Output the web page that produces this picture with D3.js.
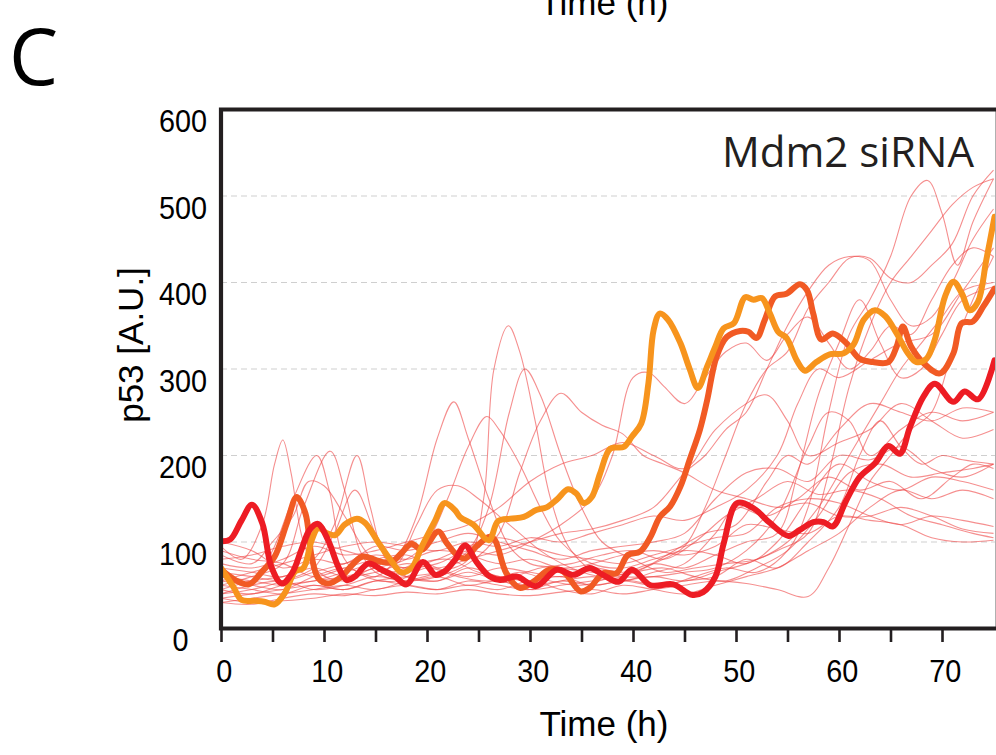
<!DOCTYPE html>
<html><head><meta charset="utf-8">
<script src="https://cdn.jsdelivr.net/npm/d3@7"></script>
<style>html,body{margin:0;padding:0;background:#fff;} svg{display:block;}</style>
</head><body><svg id="chart" width="996" height="755"></svg>
<script>
// ---------- data ----------
const xTicks = [0,5,10,15,20,25,30,35,40,45,50,55,60,65,70];
const xLabelTicks = [0,10,20,30,40,50,60,70];
const yTicks = [0,100,200,300,400,500,600];
const gridValues = [100,200,300,400,500];
const panelLabel = "C";
const conditionLabel = "Mdm2 siRNA";
const xTitle = "Time (h)";
const yTitle = "p53 [A.U.]";

// thick highlighted cells: [time (h), p53 (A.U.)]
const redCell = [[0,101],[0.9,103],[2,125],[3,143],[4,122],[4.9,71],[5.9,52],[6.9,64],[7.8,91],[8.6,114],[9.4,121],[10.4,102],[11.4,71],[12.2,56],[13,60],[14.3,75],[15.6,68],[16.9,60],[18,51],[19.6,77],[20.8,62],[21.7,66],[22.7,79],[23.7,96],[24.8,77],[26.1,60],[27.1,56],[28.7,60],[30.6,49],[32.6,68],[34.2,62],[35.8,70],[37.1,62],[38.6,54],[39.9,68],[41.7,50],[43.9,51],[45.7,39],[46.8,42],[48,60],[48.8,98],[50.1,145],[51.7,139],[53.3,122],[55.1,107],[56.2,114],[57.5,123],[58.5,123],[59.4,118],[60.7,148],[62,175],[63.5,191],[64.8,211],[65.9,202],[66.9,233],[68.2,268],[69.3,283],[71.1,262],[72.2,274],[73.5,265],[75.1,310]];
const orangeRedCell = [[0,68],[1.4,56],[2.7,51],[4,66],[5.2,83],[6.4,122],[7.35,152],[8.2,133],[8.8,83],[9.45,58],[10.4,52],[11.7,60],[12.7,73],[13.7,83],[15.6,77],[16.6,77],[17.5,87],[18.5,98],[19.5,91],[21.1,112],[21.9,99],[22.9,85],[23.7,81],[24.8,95],[26.1,106],[26.6,102],[27.7,64],[29,47],[30.3,54],[31.9,68],[33.2,66],[34.9,43],[35.8,47],[37.1,64],[38.4,64],[39.5,85],[40.7,89],[41.7,106],[42.6,129],[43.6,141],[44.6,164],[45.5,195],[46.5,230],[47.2,264],[48.1,314],[49.1,337],[50.4,344],[51.2,343],[52,336],[52.8,357],[53.8,384],[54.9,387],[56.2,398],[56.9,391],[57.5,364],[58.3,334],[59.4,341],[60.7,330],[62,312],[63.3,308],[64.8,308],[65.6,326],[66.2,349],[67,326],[68.2,307],[69.8,295],[71.1,318],[71.9,353],[73,355],[74,372],[75.1,393]];
const orangeCell = [[0,70],[1.2,48],[2,33],[3.3,32],[4.2,31],[5.2,28],[6.2,41],[7.2,66],[8,70],[8.8,102],[9.45,116],[10.3,110],[11.1,108],[12,120],[13.2,127],[14,122],[15.3,99],[16.6,77],[17.5,65],[18.5,70],[19.5,95],[20.8,125],[21.7,145],[22.7,137],[23.2,129],[24.5,120],[26,102],[26.9,124],[28.1,127],[29.4,129],[30.6,137],[31.6,140],[32.6,149],[33.7,161],[34.5,156],[35.2,145],[36,152],[36.8,179],[37.8,208],[39.1,210],[39.9,222],[40.8,237],[41.5,284],[42,345],[42.6,364],[43.4,357],[44.6,330],[45.5,300],[46.3,278],[47.2,303],[48,326],[48.8,347],[49.8,353],[50.9,383],[51.7,380],[52.5,382],[53.3,364],[54.1,343],[54.9,336],[55.9,310],[56.7,298],[57.8,308],[59.1,317],[60.4,318],[61.4,328],[62.4,357],[63.5,368],[64.5,361],[65.6,341],[66.7,318],[67.5,308],[68.5,312],[69.3,334],[70.3,384],[71.1,401],[71.9,388],[72.7,368],[73.5,378],[74.3,426],[75.1,476]];

// thin background cells
const thinCells = [
 [[0,95],[2,80],[4,120],[5.2,190],[6,218],[6.8,180],[8,100],[9.5,65],[12,55],[15,70],[18,60],[21,55],[24,65],[27,55],[30,50],[33,55],[36,60],[39,55],[42,65],[45,75],[48,110],[50,140],[53,130],[56,150],[59,175],[62,160],[65,170],[68,150],[71,175],[73,190],[75,185]],
 [[0,60],[3,55],[5,90],[7,150],[9.3,200],[10.5,160],[12,80],[14,60],[17,55],[20,70],[23,60],[26,55],[29,65],[32,55],[35,50],[38,60],[41,70],[44,90],[47,110],[50,120],[53,170],[55,200],[57,190],[60,230],[63,260],[66,250],[69,240],[72,255],[75,250]],
 [[0,50],[3,60],[6,75],[8,140],[10.6,205],[12,160],[13.5,90],[15,65],[18,55],[21,60],[24,50],[27,55],[30,45],[33,50],[36,55],[39,60],[42,75],[45,95],[47,140],[49,200],[51,260],[53,300],[55,320],[57,370],[59,400],[61,428],[63,428],[65,405],[67,400],[69,420],[71,445],[73,500],[75,530]],
 [[0,70],[3,65],[6,60],[9,80],[11,120],[13.2,200],[14.5,140],[16,80],[18,60],[21,55],[24,70],[27,60],[30,55],[33,60],[36,50],[39,55],[42,50],[45,55],[48,60],[51,80],[54,70],[57,100],[60,140],[62,200],[64,240],[66,210],[68,190],[70,200],[72,195],[75,190]],
 [[0,85],[3,75],[5,100],[7,130],[8.5,170],[10,165],[12,130],[14,90],[16,65],[19,75],[22,80],[25,65],[28,60],[31,70],[34,75],[37,85],[40,90],[43,80],[46,100],[49,130],[52,150],[55,170],[58,155],[61,160],[64,150],[67,130],[70,120],[73,110],[75,105]],
 [[0,40],[3,45],[6,55],[9,70],[11,110],[13,160],[15,110],[17,75],[19,120],[21,160],[23,165],[25,150],[27,130],[29,110],[31,90],[34,70],[37,60],[40,65],[43,70],[46,60],[49,55],[52,70],[55,90],[58,130],[61,180],[64,190],[67,175],[70,180],[73,185],[75,190]],
 [[0,55],[3,50],[6,45],[9,60],[12,70],[15,60],[17,80],[19,130],[21,220],[22.6,262],[24,220],[26,150],[28,95],[30,75],[33,70],[36,65],[39,60],[42,60],[45,65],[48,70],[51,90],[54,130],[57,210],[59,250],[61,240],[63,200],[66,230],[69,250],[72,240],[75,250]],
 [[0,35],[3,40],[6,45],[9,50],[12,45],[15,55],[18,60],[21,65],[24,80],[25.5,150],[26.5,300],[27.9,350],[29,320],[30.5,240],[32,150],[34,90],[37,60],[40,55],[43,50],[46,60],[49,70],[52,65],[55,90],[57,140],[59,250],[61,340],[63,380],[65,430],[67,500],[68.6,518],[70,480],[71.5,420],[73,470],[75,520]],
 [[0,45],[3,40],[6,50],[9,55],[12,60],[15,70],[18,80],[20,100],[22,150],[24,210],[25.8,245],[27,230],[29,190],[31,140],[33,100],[36,75],[39,70],[42,80],[45,90],[48,85],[51,75],[54,100],[57,150],[60,190],[63,170],[66,160],[69,175],[72,170],[75,160]],
 [[0,30],[3,35],[6,40],[9,45],[12,50],[15,45],[18,55],[21,65],[24,90],[26,140],[28,250],[29.5,300],[31,270],[33,200],[35,140],[37,100],[40,80],[43,65],[46,70],[49,75],[52,80],[55,100],[58,140],[61,200],[64,260],[66,300],[68,330],[70,360],[72,390],[75,400]],
 [[0,40],[3,50],[6,55],[9,45],[12,50],[15,60],[18,55],[21,60],[24,75],[27,110],[29,180],[31,240],[33,272],[35,250],[37,235],[39,225],[41,200],[43,190],[45,180],[48,160],[51,150],[54,140],[57,145],[60,130],[63,130],[66,140],[69,130],[72,115],[75,110]],
 [[0,60],[3,55],[6,50],[9,55],[12,65],[15,75],[18,70],[21,75],[24,90],[27,85],[30,100],[33,120],[36,150],[38,200],[40,290],[41.5,296],[43,280],[45,260],[47,290],[49,320],[51,330],[53,310],[55,340],[57,360],[59,330],[61,300],[63,320],[65,350],[67,340],[69,380],[71,420],[73,440],[75,430]],
 [[0,75],[3,70],[6,80],[9,95],[12,85],[15,90],[18,100],[21,110],[24,120],[27,140],[30,170],[33,190],[36,200],[39,215],[42,200],[45,185],[48,230],[51,260],[53,270],[55,240],[57,200],[60,215],[63,230],[66,260],[69,240],[72,220],[75,230]],
 [[0,50],[3,45],[6,40],[9,50],[12,45],[15,55],[18,50],[21,45],[24,55],[27,50],[30,45],[33,55],[36,50],[39,55],[42,60],[45,55],[48,65],[51,75],[54,90],[57,110],[59,180],[61,280],[63,350],[65,400],[67,430],[69,460],[71,490],[73,510],[75,520]],
 [[0,35],[3,30],[6,32],[9,35],[12,40],[15,38],[18,42],[21,40],[24,45],[27,40],[30,38],[33,42],[36,45],[39,40],[42,45],[45,50],[48,55],[51,52],[54,45],[57,37],[59,70],[61,120],[63,170],[65,200],[67,230],[69,250],[71,320],[73,380],[75,430]],
 [[0,65],[3,60],[6,55],[9,65],[12,75],[15,85],[18,80],[21,90],[24,85],[27,75],[30,80],[33,70],[36,75],[39,85],[42,90],[45,85],[48,95],[51,120],[54,115],[57,110],[60,130],[63,125],[66,120],[69,105],[72,100],[75,102]],
 [[0,100],[3,90],[6,70],[9,80],[12,75],[15,95],[18,90],[21,100],[24,110],[27,100],[30,90],[33,80],[36,90],[39,95],[42,100],[45,110],[48,150],[51,180],[54,185],[57,170],[60,200],[63,195],[66,210],[69,185],[72,175],[75,190]],
 [[0,80],[3,85],[6,95],[9,100],[12,90],[15,80],[18,70],[21,80],[24,95],[27,105],[30,95],[33,85],[36,80],[39,75],[42,85],[45,95],[48,105],[51,110],[54,140],[57,150],[60,145],[63,130],[66,120],[69,130],[72,125],[75,118]],
 [[0,45],[3,55],[6,60],[9,70],[12,60],[15,65],[18,75],[21,70],[24,80],[27,90],[30,100],[33,110],[36,115],[39,125],[42,140],[45,180],[47,200],[49,230],[51,250],[53,300],[55,350],[57,390],[59,420],[61,430],[63,425],[65,380],[67,350],[69,360],[71,400],[73,450],[75,485]],
 [[0,55],[3,65],[6,75],[9,85],[12,95],[15,100],[18,95],[21,90],[24,100],[27,95],[30,105],[33,100],[36,110],[39,120],[42,130],[45,125],[48,140],[51,160],[54,200],[56,260],[58,300],[60,290],[63,310],[66,330],[69,340],[72,390],[75,440]],
 [[0,30],[3,28],[6,35],[9,40],[12,38],[15,45],[18,50],[21,45],[24,50],[27,45],[30,55],[33,45],[36,40],[39,50],[42,45],[45,40],[48,50],[51,60],[54,70],[57,90],[60,110],[63,140],[66,160],[69,150],[72,160],[75,150]],
 [[0,90],[3,80],[6,75],[9,60],[12,70],[15,80],[18,85],[21,70],[24,60],[27,70],[30,65],[33,60],[36,70],[39,65],[42,75],[45,70],[48,85],[51,100],[54,110],[56,180],[58,270],[60,330],[62,380],[64,330],[66,290],[68,300],[70,340],[72,380],[75,395]]
];

// ---------- layout ----------
const svg = d3.select("#chart");
const frameColor = "#231f20";
const plotLeft = 221, plotRight = 993.5, plotTop = 109.5, plotBottom = 628.5;
const x = d3.scaleLinear().domain([0,75]).range([plotLeft,plotRight]);
const y = d3.scaleLinear().domain([0,600]).range([plotBottom,plotTop]);
const sans = "'Liberation Sans', Arial, Helvetica, sans-serif";
const myriad = "'Open Sans', 'Noto Sans', sans-serif";

svg.append("defs").append("clipPath").attr("id","plotclip")
  .append("rect").attr("x",plotLeft).attr("y",plotTop).attr("width",996-plotLeft).attr("height",plotBottom-plotTop);

// gridlines
svg.append("g").selectAll("line").data(gridValues).join("line")
  .attr("x1",plotLeft).attr("x2",996).attr("y1",d=>y(d)).attr("y2",d=>y(d))
  .attr("stroke","#cfcfcf").attr("stroke-width",1).attr("stroke-dasharray","6,4");

// lines
const thinGen = d3.line().x(d=>x(d[0])).y(d=>y(d[1])).curve(d3.curveCatmullRom.alpha(0.5));
const thickGen = d3.line().x(d=>x(d[0])).y(d=>y(d[1])).curve(d3.curveCatmullRom.alpha(0.5));
const lines = svg.append("g").attr("clip-path","url(#plotclip)");
lines.selectAll("path.thin").data(thinCells).join("path").attr("class","thin")
  .attr("d",thinGen).attr("fill","none").attr("stroke","#ee4444").attr("stroke-opacity",0.6)
  .attr("stroke-width",1.1).attr("stroke-linejoin","round");
const thick = [
  {data: orangeRedCell, color: "#f15a24"},
  {data: orangeCell, color: "#f7941d"},
  {data: redCell, color: "#ed1c24"}
];
lines.selectAll("path.thick").data(thick).join("path").attr("class","thick")
  .attr("d",d=>thickGen(d.data)).attr("fill","none").attr("stroke",d=>d.color)
  .attr("stroke-width",6).attr("stroke-linejoin","round").attr("stroke-linecap","round");

// right edge thin line
svg.append("line").attr("x1",995.5).attr("x2",995.5).attr("y1",plotTop).attr("y2",plotBottom)
  .attr("stroke","#b0b0b0").attr("stroke-width",1);

// x axis
const xAxis = d3.axisBottom(x).tickValues(xTicks).tickSize(13.5)
  .tickFormat(d => xLabelTicks.includes(d) ? d : "");
const gx = svg.append("g").attr("transform",`translate(0,${plotBottom})`).call(xAxis);
gx.select(".domain").remove();
gx.selectAll(".tick line").attr("stroke",frameColor).attr("stroke-width",2.6);
gx.selectAll(".tick text").attr("y",53.5).attr("dy",0).attr("dx",3)
  .attr("fill","#000").style("font-family",sans).style("font-size","31px")
  .attr("transform","scale(0.93,1)");

// y axis
const yAxis = d3.axisLeft(y).tickValues(yTicks).tickSize(0).tickPadding(15);
const gy = svg.append("g").attr("transform",`translate(${plotLeft},0)`).call(yAxis);
gy.select(".domain").remove();
gy.selectAll(".tick text").attr("dy","0.71em").attr("fill","#000")
  .style("font-family",sans).style("font-size","31px")
  .attr("dx", d => d === 0 ? -20 : 0)
  .attr("transform","scale(0.93,1)");

// frame
svg.append("path")
  .attr("d",`M996,${plotTop} H${plotLeft} V${plotBottom} H996`)
  .attr("fill","none").attr("stroke",frameColor).attr("stroke-width",4.2)
  .attr("stroke-linejoin","miter");

// titles
svg.append("text").attr("x",604).attr("y",736).attr("text-anchor","middle")
  .style("font-family",sans).style("font-size","35px").attr("fill","#000")
  .text(xTitle);
svg.append("text").attr("x",604).attr("y",15).attr("text-anchor","middle")
  .style("font-family",sans).style("font-size","35px").attr("fill","#000")
  .text(xTitle);
svg.append("text").attr("transform","translate(143,345) rotate(-90)")
  .attr("text-anchor","middle").style("font-family",sans).style("font-size","35px").attr("fill","#000")
  .text(yTitle);
svg.append("text").attr("x",9).attr("y",85).style("font-family",myriad).style("font-size","78px")
  .attr("fill","#000").text(panelLabel);
svg.append("text").attr("x",974).attr("y",167).attr("text-anchor","end")
  .style("font-family",myriad).style("font-size","42px").attr("fill",frameColor)
  .text(conditionLabel);
</script>
</body></html>
